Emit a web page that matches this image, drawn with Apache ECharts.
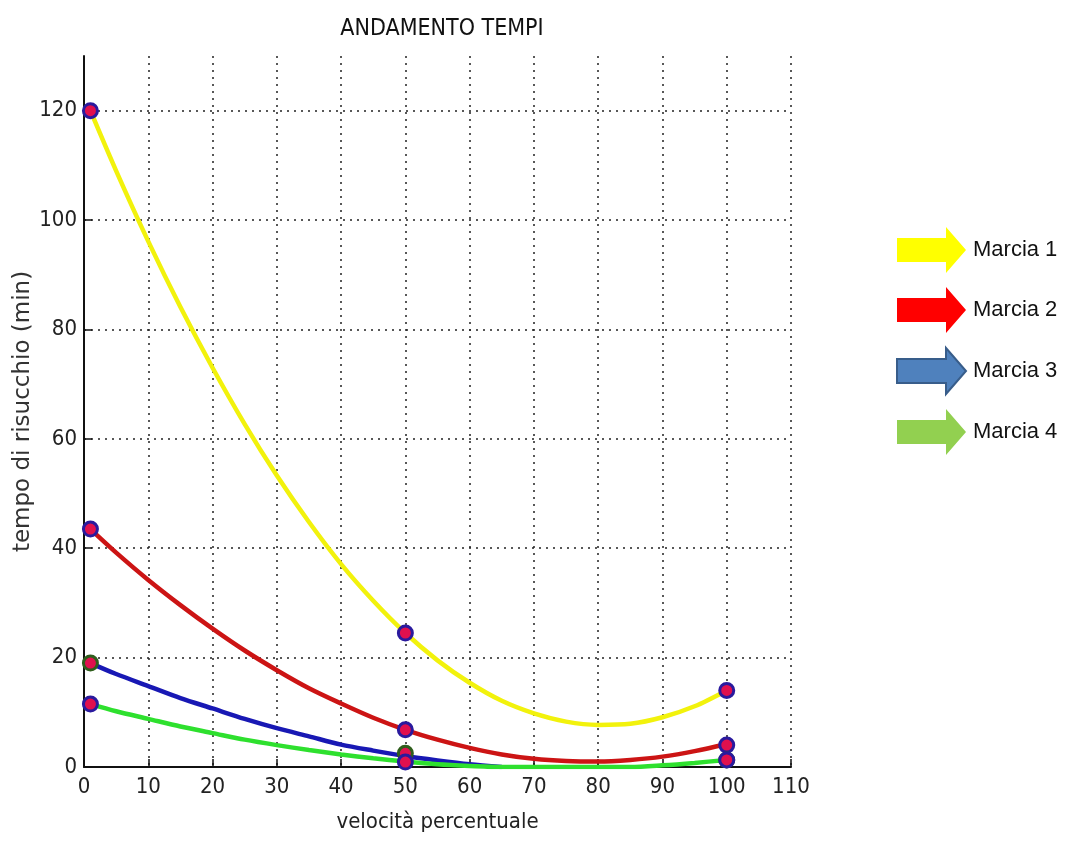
<!DOCTYPE html>
<html>
<head>
<meta charset="utf-8">
<script src="https://cdn.jsdelivr.net/npm/echarts@6/dist/echarts.min.js"></script>
<style>
  html, body { margin: 0; padding: 0; background: #fff; }
  #chart { width: 1069px; height: 841px; }
</style>
</head>
<body>
<div id="chart"></div>
<script>
// curve samples (velocità percentuale -> tempo di risucchio)
const speedX = [1, 5, 10, 15, 20, 25, 30, 35, 40, 45, 50, 55, 60, 65, 70, 75, 80, 85, 90, 95, 100];
const marcia1 = [120, 109, 96.1, 84.1, 73, 62.7, 53.3, 44.8, 37.1, 30.4, 24.5, 19.5, 15.4, 12.1, 9.8, 8.3, 7.7, 7.9, 9.1, 11.1, 14];
const marcia2 = [43.5, 39.2, 34.2, 29.6, 25.3, 21.3, 17.7, 14.4, 11.6, 9, 6.8, 5, 3.5, 2.3, 1.5, 1.1, 1, 1.3, 1.9, 2.9, 4.2];
const marcia3 = [19, 17, 14.8, 12.6, 10.7, 8.8, 7.1, 5.6, 4.1, 3, 2, 1.2, 0.5, 0];
const marcia4 = [11.5, 10.2, 8.8, 7.4, 6.2, 5, 4, 3.1, 2.3, 1.6, 1, 0.5, 0.2, 0, 0, 0, 0, 0, 0.3, 0.75, 1.3];

// measured points
const pointX = [1, 50, 100];
const punti1 = [120, 24.5, 14];
const punti2 = [43.5, 6.8, 4];
const punti3 = [19, 2.5, 1.3];
const punti4 = [11.5, 0.9, 1.3];

const gearNames = ["Marcia 1", "Marcia 2", "Marcia 3", "Marcia 4"];

const narrow = "'Liberation Sans Narrow', 'Arial Narrow', 'DejaVu Sans Condensed', sans-serif";
const arrow = "path://M0,11L49,11L49,0L69,23L49,46L49,35L0,35Z";

function pair(xs, ys) {
  return ys.map((y, i) => [xs[i], y]);
}

function curve(name, ys, color) {
  return {
    name: name,
    type: "line",
    data: pair(speedX, ys),
    smooth: 0.3,
    showSymbol: false,
    symbol: "none",
    lineStyle: { color: color, width: 4.5 },
    itemStyle: { color: color },
    z: 2,
  };
}

function punti(ys, edge) {
  return {
    name: "punti",
    type: "scatter",
    data: pair(pointX, ys),
    symbol: "circle",
    symbolSize: 14,
    itemStyle: { color: "#e0104e", borderColor: edge, borderWidth: 3, opacity: 1 },
    z: 5,
  };
}

const chart = echarts.init(document.getElementById("chart"));
chart.setOption({
  animation: false,
  backgroundColor: "#fff",
  title: {
    text: "ANDAMENTO TEMPI",
    left: 437,
    top: 13,
    textAlign: "center",
    textStyle: { fontFamily: narrow, fontSize: 23, fontWeight: 400, color: "#111" },
  },
  legend: {
    orient: "vertical",
    left: 896,
    top: 227,
    padding: 0,
    itemWidth: 69,
    itemHeight: 46,
    itemGap: 14,
    textStyle: { fontFamily: "'Liberation Sans', sans-serif", fontSize: 22, color: "#111", padding: [0, 0, 0, 2] },
    data: [
      { name: gearNames[0], icon: arrow, itemStyle: { color: "#ffff00", borderWidth: 0 } },
      { name: gearNames[1], icon: arrow, itemStyle: { color: "#ff0000", borderWidth: 0 } },
      { name: gearNames[2], icon: arrow, itemStyle: { color: "#4f81bd", borderColor: "#385d8a", borderWidth: 2 } },
      { name: gearNames[3], icon: arrow, itemStyle: { color: "#92d050", borderWidth: 0 } },
    ],
  },
  grid: { left: 84, right: 278, top: 56, bottom: 74, containLabel: false, outerBoundsMode: "none" },
  xAxis: {
    type: "value",
    min: 0,
    max: 110,
    interval: 10,
    name: "velocità percentuale",
    nameLocation: "middle",
    nameGap: 44,
    nameMoveOverlap: false,
    nameTextStyle: { fontFamily: narrow, fontSize: 22, color: "#222" },
    axisLine: { show: true, onZero: false, lineStyle: { color: "#111", width: 2 } },
    axisTick: { show: true, inside: true, length: 8, lineStyle: { color: "#111", width: 1.5 } },
    axisLabel: { fontFamily: narrow, fontSize: 22, color: "#222", margin: 9 },
    splitLine: {
      show: true,
      showMinLine: false,
      lineStyle: { color: "#222", type: [2, 5], width: 1.5 },
    },
  },
  yAxis: {
    type: "value",
    min: 0,
    max: 130,
    interval: 20,
    name: "tempo di risucchio (min)",
    nameLocation: "middle",
    nameGap: 49,
    nameMoveOverlap: false,
    nameTextStyle: { fontFamily: "'DejaVu Sans', sans-serif", fontSize: 23, color: "#333" },
    axisLine: { show: true, onZero: false, lineStyle: { color: "#111", width: 2 } },
    axisTick: { show: true, inside: true, length: 8, lineStyle: { color: "#111", width: 1.5 } },
    axisLabel: { fontFamily: narrow, fontSize: 22, color: "#222", margin: 7, showMaxLabel: false },
    splitLine: {
      show: true,
      showMinLine: false,
      showMaxLine: false,
      lineStyle: { color: "#222", type: [2, 5], width: 1.5 },
    },
  },
  series: [
    curve(gearNames[0], marcia1, "#f2f20c"),
    curve(gearNames[1], marcia2, "#cc1414"),
    curve(gearNames[2], marcia3, "#1818b4"),
    curve(gearNames[3], marcia4, "#2ee02e"),
    punti(punti1, "#2a1a9e"),
    punti(punti2, "#2a1a9e"),
    punti(punti3, "#2f5e1c"),
    punti(punti4, "#2a1a9e"),
  ],
});
</script>
</body>
</html>
